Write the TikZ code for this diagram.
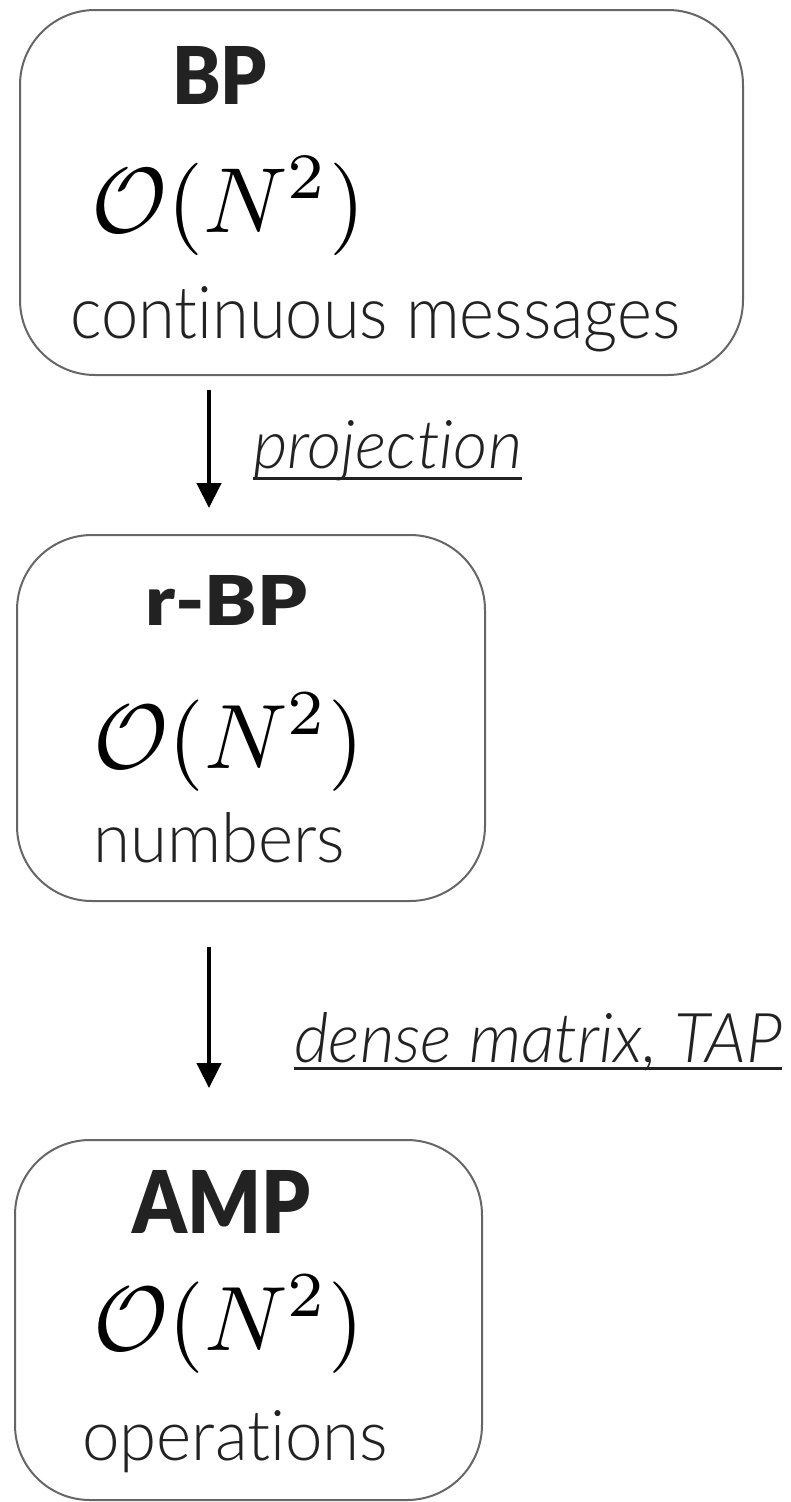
\documentclass[tikz,border=0pt]{standalone}
\usepackage{fontspec}
\usepackage{graphicx}
\usetikzlibrary{arrows.meta}
\newfontfamily\lightfont{Lato Light}[ItalicFont={Lato Light Italic},Ligatures=NoCommon]
\newfontfamily\heavyfont{Lato Black}
\definecolor{ink}{HTML}{222222}
\definecolor{frame}{HTML}{666666}
% scale a piece of text to a given width and height above its baseline
\newcommand\fitwh[3]{\resizebox{#1}{#2}{#3}}
% scale a formula to a given width
\newcommand\fitmath[2]{\resizebox{#1}{!}{$#2$}}

\begin{document}
\begin{tikzpicture}[x=1pt,y=-1pt,
  panel/.style={draw=frame, line width=2pt, rounded corners=75pt, inner sep=0pt},
  txt/.style={inner sep=0pt, anchor=base west, text=ink},
  mth/.style={inner sep=0pt, anchor=base west, text=black},
  flow/.style={line width=4.5pt, -{Triangle[length=25pt,width=24pt]}},
  uline/.style={ink, line width=3pt}]
\useasboundingbox (0,0) rectangle (790,1502);

% the three method panels
\node[panel, minimum width=723pt, minimum height=365pt] (bp)  at (381.5,192.5) {};
\node[panel, minimum width=468pt, minimum height=366pt] (rbp) at (251,718) {};
\node[panel, minimum width=467pt, minimum height=360pt] (amp) at (248.5,1320) {};

% panel 1: BP
\node[txt] (bpt) at (172,104) {\fitwh{95pt}{58pt}{\heavyfont BP}};
\node[mth] (bpm) at (91,232) {\fitmath{274pt}{\mathcal{O}(N^2)}};
\node[txt] (bpc) at (70,338) {\fitwh{610pt}{52pt}{\lightfont continuous messages}};

% panel 2: r-BP
\node[txt] (rbpt) at (145,625) {\fitwh{162pt}{50pt}{\heavyfont r-BP}};
\node[mth] (rbpm) at (93,768) {\fitmath{271pt}{\mathcal{O}(N^2)}};
\node[txt] (rbpc) at (93,862) {\fitwh{252pt}{50pt}{\lightfont numbers}};

% panel 3: AMP
\node[txt] (ampt) at (132,1233) {\fitwh{178pt}{63pt}{\heavyfont AMP}};
\node[mth] (ampm) at (93,1350) {\fitmath{271pt}{\mathcal{O}(N^2)}};
\node[txt] (ampc) at (82,1460) {\fitwh{306pt}{50pt}{\lightfont operations}};

% reduction steps
\coordinate (s1a) at (209,390);
\coordinate (s1b) at (209,508);
\coordinate (s2a) at (209,947);
\coordinate (s2b) at (209,1088);
\draw[flow] (s1a) -- (s1b);
\draw[flow] (s2a) -- (s2b);

\node[txt] (proj) at (253,468) {\fitwh{269pt}{48pt}{\lightfont\itshape projection}};
\draw[uline] ([yshift=-10pt]proj.base west) -- ([yshift=-10pt]proj.base east);

\node[txt] (tap) at (294,1062) {\fitwh{488pt}{50pt}{\lightfont\itshape dense matrix, TAP}};
\draw[uline] ([yshift=-6pt]tap.base west) -- ([yshift=-6pt]tap.base east);
\end{tikzpicture}
\end{document}
